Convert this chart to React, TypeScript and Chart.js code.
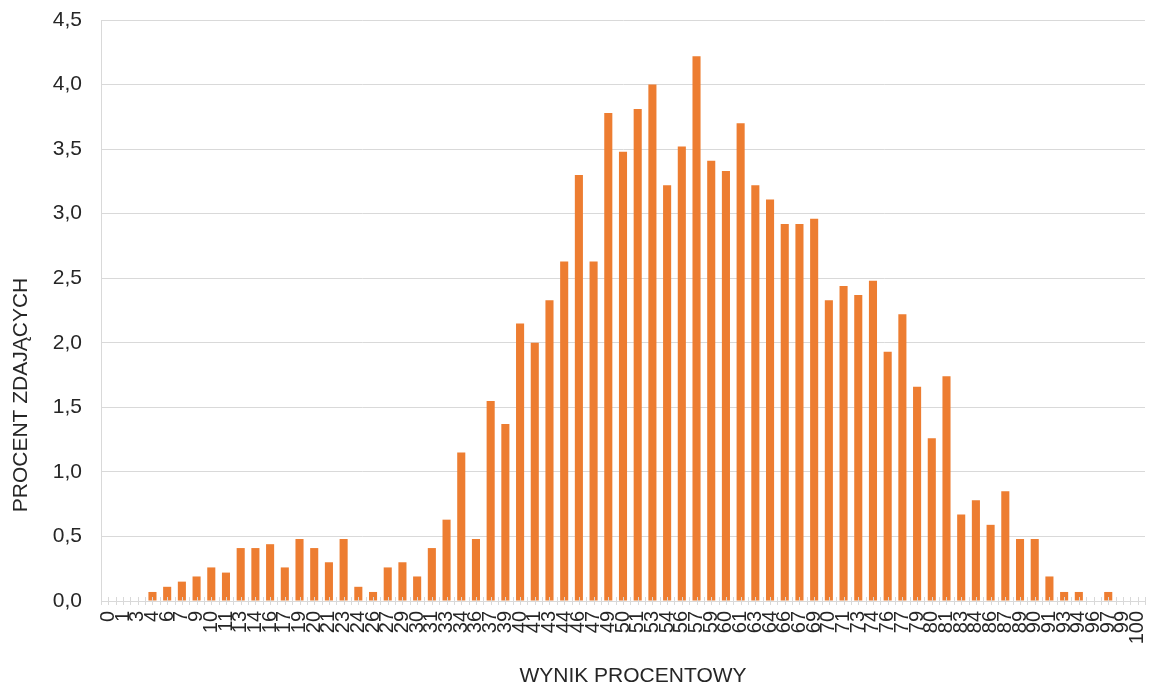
import React, { useEffect, useRef } from "react";
import { Chart, registerables } from "chart.js";

Chart.register(...registerables);

const categories: string[] = [
  "0", "1", "3", "4", "6", "7", "9", "10", "11", "13",
  "14", "16", "17", "19", "20", "21", "23", "24", "26", "27",
  "29", "30", "31", "33", "34", "36", "37", "39", "40", "41",
  "43", "44", "46", "47", "49", "50", "51", "53", "54", "56",
  "57", "59", "60", "61", "63", "64", "66", "67", "69", "70",
  "71", "73", "74", "76", "77", "79", "80", "81", "83", "84",
  "86", "87", "89", "90", "91", "93", "94", "96", "97", "99",
  "100",
];

const percentValues: number[] = [
  0, 0, 0, 0.07, 0.11, 0.15, 0.19, 0.26, 0.22, 0.41,
  0.41, 0.44, 0.26, 0.48, 0.41, 0.3, 0.48, 0.11, 0.07, 0.26,
  0.3, 0.19, 0.41, 0.63, 1.15, 0.48, 1.55, 1.37, 2.15, 2.0,
  2.33, 2.63, 3.3, 2.63, 3.78, 3.48, 3.81, 4.0, 3.22, 3.52,
  4.22, 3.41, 3.33, 3.7, 3.22, 3.11, 2.92, 2.92, 2.96, 2.33,
  2.44, 2.37, 2.48, 1.93, 2.22, 1.66, 1.26, 1.74, 0.67, 0.78,
  0.59, 0.85, 0.48, 0.48, 0.19, 0.07, 0.07, 0, 0.07, 0,
  0,
];

const yMin = 0;
const yMax = 4.5;
const yStep = 0.5;
const xAxisTitle = "WYNIK PROCENTOWY";
const yAxisTitle = "PROCENT ZDAJĄCYCH";

const FONT = "'Liberation Sans', Arial, sans-serif";
const TEXT = "#262626";
const GRID = "#d9d9d9";
const BAR = "#ED7D31";

const decorPlugin = {
  id: "decor",
  afterDraw(chart: any) {
    const { ctx, chartArea, scales } = chart;
    const xs = scales.x;
    const n = categories.length;
    const half = (xs.getPixelForValue(1) - xs.getPixelForValue(0)) / 2;
    ctx.save();
    ctx.strokeStyle = GRID;
    ctx.lineWidth = 1;
    ctx.beginPath();
    for (let i = 0; i < n; i++) {
      const c = xs.getPixelForValue(i);
      const pts = [c - half, c];
      if (i === n - 1) pts.push(c + half);
      for (const p of pts) {
        const px = Math.round(p) + 0.5;
        ctx.moveTo(px, chartArea.bottom - 4);
        ctx.lineTo(px, chartArea.bottom + 4);
      }
    }
    ctx.stroke();

    ctx.fillStyle = TEXT;
    ctx.font = `21px ${FONT}`;
    ctx.textAlign = "center";
    ctx.textBaseline = "middle";
    ctx.fillText(xAxisTitle, (chartArea.left + chartArea.right) / 2 + 10, chart.height - 10);
    ctx.translate(21, 395);
    ctx.rotate(-Math.PI / 2);
    ctx.fillText(yAxisTitle, 0, 0);
    ctx.restore();
  },
};

export default function App() {
  const canvasRef = useRef<HTMLCanvasElement | null>(null);

  useEffect(() => {
    document.body.style.margin = "0";
    const canvas = canvasRef.current;
    if (!canvas) return;
    const chart = new Chart(canvas, {
      type: "bar",
      data: {
        labels: categories,
        datasets: [
          {
            data: percentValues,
            backgroundColor: BAR,
            borderWidth: 0,
            categoryPercentage: 1,
            barPercentage: 0.55,
          },
        ],
      },
      options: {
        animation: false,
        responsive: true,
        maintainAspectRatio: false,
        layout: { padding: { top: 20, right: 6, left: 0, bottom: 0 } },
        plugins: {
          legend: { display: false },
          tooltip: { enabled: false },
          title: { display: false },
        },
        scales: {
          x: {
            grid: { display: false, drawTicks: false },
            border: { display: true, color: GRID },
            ticks: {
              autoSkip: false,
              maxRotation: 90,
              minRotation: 90,
              padding: 10,
              color: TEXT,
              font: { family: FONT, size: 20 },
            },
            afterFit: (scale: any) => {
              scale.height = 85;
              scale.paddingLeft = 0;
              scale.paddingRight = 0;
            },
          },
          y: {
            min: yMin,
            max: yMax,
            grid: { color: GRID, drawTicks: false },
            border: { display: true, color: GRID },
            ticks: {
              stepSize: yStep,
              padding: 19,
              color: TEXT,
              font: { family: FONT, size: 21 },
              callback: (v: any) => Number(v).toFixed(1).replace(".", ","),
            },
            afterFit: (scale: any) => {
              scale.width = 101;
              scale.paddingTop = 0;
              scale.paddingBottom = 0;
            },
          },
        },
      },
      plugins: [decorPlugin],
    });
    return () => chart.destroy();
  }, []);

  return (
    <div style={{ position: "relative", width: 1151, height: 686 }}>
      <canvas ref={canvasRef} />
    </div>
  );
}
